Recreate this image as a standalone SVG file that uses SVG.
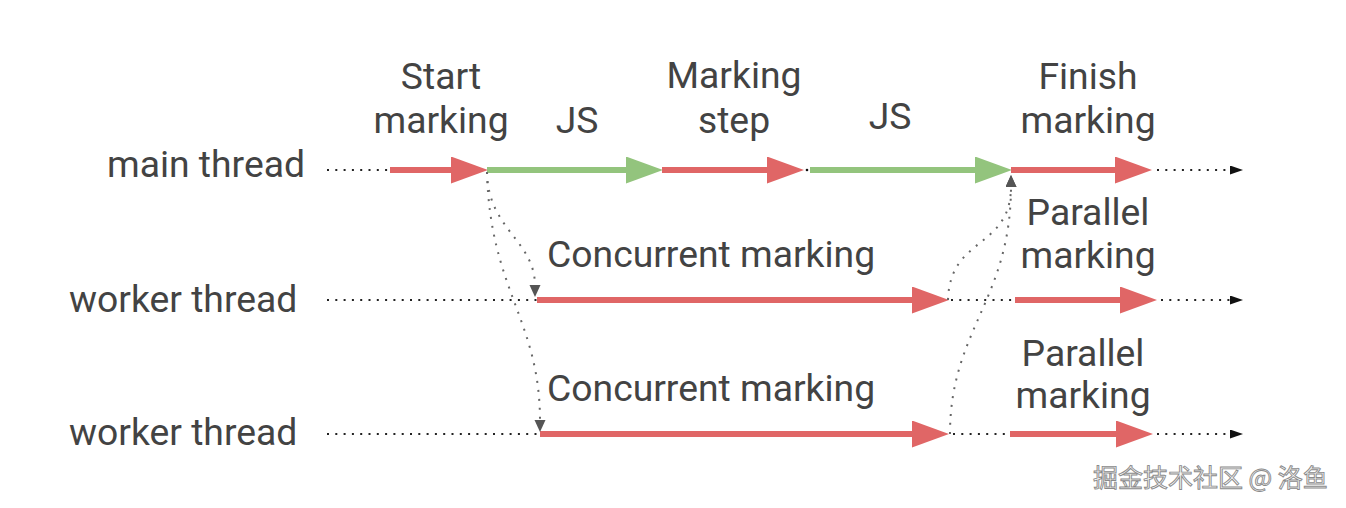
<svg xmlns="http://www.w3.org/2000/svg" width="1346" height="508" viewBox="0 0 1346 508">
<style>
.lbl{font-family:Roboto,"Liberation Sans",sans-serif;font-size:37.3px;fill:#434343}
.mid{text-anchor:middle}
.end{text-anchor:end}
.red{stroke:#e06666;stroke-width:6;fill:none}
.green{stroke:#93c47d;stroke-width:6;fill:none}
.dot{stroke:#222;stroke-width:2;stroke-dasharray:2 6.3;fill:none}
.curve{stroke:#666;stroke-width:2;stroke-dasharray:2 7;fill:none}
.wm{font-family:"Noto Sans CJK SC","Liberation Sans",sans-serif;font-size:25px;fill:#f6f6f6;stroke:#8a8a8a;stroke-width:0.9}
</style>
<defs>
<marker id="hr" markerUnits="userSpaceOnUse" markerWidth="38" markerHeight="28" refX="1" refY="13.5" orient="auto"><path d="M0,0 L37,13.5 L0,27 Z" fill="#e06666"/></marker>
<marker id="hg" markerUnits="userSpaceOnUse" markerWidth="38" markerHeight="28" refX="1" refY="13.5" orient="auto"><path d="M0,0 L37,13.5 L0,27 Z" fill="#93c47d"/></marker>
<marker id="hb" markerUnits="userSpaceOnUse" markerWidth="14" markerHeight="10" refX="1" refY="4.5" orient="auto"><path d="M0,0 L13,4.5 L0,9 Z" fill="#111"/></marker>
<marker id="hgr" markerUnits="userSpaceOnUse" markerWidth="12" markerHeight="12" refX="1" refY="5.5" orient="auto"><path d="M0,0 L12,5.5 L0,11 Z" fill="#555"/></marker>
</defs>

<g id="labels">
<text class="lbl end" x="305" y="177">main thread</text>
<text class="lbl" x="69" y="312">worker thread</text>
<text class="lbl" x="69" y="445">worker thread</text>
</g>

<g id="start-marking">
<text class="lbl mid" x="441" y="89">Start</text>
<text class="lbl mid" x="441" y="133">marking</text>
</g>
<g id="js1"><text class="lbl mid" x="577" y="133">JS</text></g>
<g id="marking-step">
<text class="lbl mid" x="734" y="88">Marking</text>
<text class="lbl mid" x="734" y="133">step</text>
</g>
<g id="js2"><text class="lbl mid" x="890" y="129">JS</text></g>
<g id="finish-marking">
<text class="lbl mid" x="1088" y="89">Finish</text>
<text class="lbl mid" x="1088" y="133">marking</text>
</g>
<g id="concurrent1"><text class="lbl" x="547" y="267">Concurrent marking</text></g>
<g id="parallel1">
<text class="lbl mid" x="1088" y="225">Parallel</text>
<text class="lbl mid" x="1088" y="268">marking</text>
</g>
<g id="concurrent2"><text class="lbl" x="547" y="401">Concurrent marking</text></g>
<g id="parallel2">
<text class="lbl mid" x="1083" y="366">Parallel</text>
<text class="lbl mid" x="1083" y="408">marking</text>
</g>

<g id="connectors">
<!-- main thread -->
<line class="dot" x1="327" y1="170" x2="390" y2="170"/>
<line class="red" x1="390" y1="170" x2="452" y2="170" marker-end="url(#hr)"/>
<line class="green" x1="487" y1="170" x2="627" y2="170" marker-end="url(#hg)"/>
<line class="red" x1="662" y1="170" x2="768" y2="170" marker-end="url(#hr)"/>
<circle cx="807" cy="170" r="1.3" fill="#111"/>
<line class="green" x1="810" y1="170" x2="976" y2="170" marker-end="url(#hg)"/>
<line class="red" x1="1011" y1="170" x2="1116" y2="170" marker-end="url(#hr)"/>
<line class="dot" x1="1157" y1="170" x2="1231" y2="170" marker-end="url(#hb)"/>

<!-- worker 1 -->
<line class="dot" x1="327" y1="300" x2="537" y2="300"/>
<line class="red" x1="537" y1="300" x2="913" y2="300" marker-end="url(#hr)"/>
<line class="dot" x1="951" y1="300" x2="1015" y2="300"/>
<line class="red" x1="1015" y1="300" x2="1121" y2="300" marker-end="url(#hr)"/>
<line class="dot" x1="1161" y1="300" x2="1231" y2="300" marker-end="url(#hb)"/>

<!-- worker 2 -->
<line class="dot" x1="327" y1="434" x2="540" y2="434"/>
<line class="red" x1="540" y1="434" x2="913" y2="434" marker-end="url(#hr)"/>
<line class="dot" x1="953" y1="434" x2="1010" y2="434"/>
<line class="red" x1="1010" y1="434" x2="1117" y2="434" marker-end="url(#hr)"/>
<line class="dot" x1="1157" y1="434" x2="1231" y2="434" marker-end="url(#hb)"/>

<!-- fork / join curves -->
<path class="curve" d="M487,172 C488,230 535,240 535,286" marker-end="url(#hgr)"/>
<path class="curve" d="M487,172 C490,290 540,320 540,421" marker-end="url(#hgr)"/>
<path class="curve" d="M948,300 C950,235 1011,250 1011,186" marker-end="url(#hgr)"/>
<path class="curve" d="M950,434 C950,330 1011,300 1011,186" marker-end="url(#hgr)"/>
</g>

<g id="watermark"><text class="wm" x="1093" y="487">掘金技术社区 @ 洛鱼</text></g>
</svg>
